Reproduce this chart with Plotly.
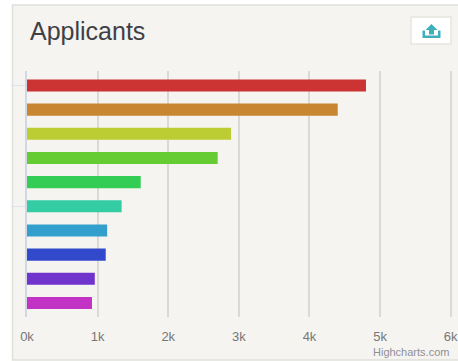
import plotly.graph_objects as go

categories = ["A", "B", "C", "D", "E", "F", "G", "H", "I", "J"]
applicants = [4800, 4400, 2890, 2700, 1610, 1340, 1135, 1115, 960, 920]
bar_colors = ["#cc3333", "#c98632", "#bccc33", "#66cc33", "#33cc55",
              "#33cca3", "#339fcc", "#3349cc", "#7033cc", "#c233c5"]
x_ticks = [0, 1000, 2000, 3000, 4000, 5000, 6000]
x_labels = ["0k", "1k", "2k", "3k", "4k", "5k", "6k"]

W, H = 458, 361
L, R, T, B = 27, 452, 71, 317


def px(x):
    return (x - L) / (R - L)


def py(y):
    return (B - y) / (B - T)


def rect(x0, y0, x1, y1, fill, line, lw=1):
    return dict(type="rect", xref="paper", yref="paper", layer="below",
                x0=px(x0), x1=px(x1), y0=py(y0), y1=py(y1),
                fillcolor=fill, line=dict(color=line, width=lw))


def path(points, fill):
    d = "M " + " L ".join(f"{px(a):.5f},{py(b):.5f}" for a, b in points) + " Z"
    return dict(type="path", xref="paper", yref="paper", path=d,
                fillcolor=fill, line=dict(width=0))


fig = go.Figure(go.Bar(
    y=categories, x=applicants, orientation="h",
    marker=dict(color=bar_colors, line=dict(width=0)),
    width=0.5, hoverinfo="x+y",
))

fig.update_layout(
    width=W, height=H, autosize=False,
    margin=dict(l=L, r=W - R, t=T, b=H - B, pad=0, autoexpand=False),
    paper_bgcolor="#ffffff", plot_bgcolor="rgba(0,0,0,0)",
    showlegend=False,
    font=dict(family="Liberation Sans, Arial, sans-serif", color="#666666", size=12),
    xaxis=dict(range=[0, 6018], tickvals=x_ticks, ticktext=x_labels,
               showgrid=True, gridcolor="#d9d9d5", gridwidth=2, zeroline=False,
               showline=False, ticks="outside", ticklen=7, tickcolor="rgba(0,0,0,0)",
               tickfont=dict(size=13, color="#777777"),
               ticklabeloverflow="allow", automargin=False),
    yaxis=dict(type="category", categoryorder="array", categoryarray=categories,
               range=[9.58, -0.6], tickmode="array",
               tickvals=[categories[0], categories[5]], ticktext=["", ""],
               ticks="outside", ticklen=14, tickcolor="#dde4ee", tickwidth=1,
               showgrid=False, zeroline=False, automargin=False,
               showline=True, linecolor="#d0d8e4", linewidth=2),
    shapes=[
        rect(12.5, 5, 470, 360, "#f5f4f1", "#e0dfda", 1.5),
        rect(411, 17, 451, 44, "#ffffff", "#e6e5e0", 1.5),
        path([(431.5, 24), (437.5, 30), (434, 30), (434, 34.5), (429, 34.5), (429, 30), (425.5, 30)], "#3fb0ba"),
        path([(422.5, 30.5), (425, 30.5), (425, 35.5), (438, 35.5), (438, 30.5), (440.5, 30.5),
              (440.5, 38), (422.5, 38)], "#3fb0ba"),
    ],
    annotations=[
        dict(text="Applicants", xref="paper", yref="paper", x=px(28), y=py(31),
             xanchor="left", yanchor="middle", showarrow=False,
             font=dict(size=25, color="#3f3f46")),
        dict(text="Highcharts.com", xref="paper", yref="paper", x=px(451), y=py(351.5),
             xanchor="right", yanchor="middle", showarrow=False,
             font=dict(size=11, color="#8f8f96")),
    ],
)

fig.write_html("out.html", config=dict(displayModeBar=False),
               post_script="document.body.style.margin='0';")
